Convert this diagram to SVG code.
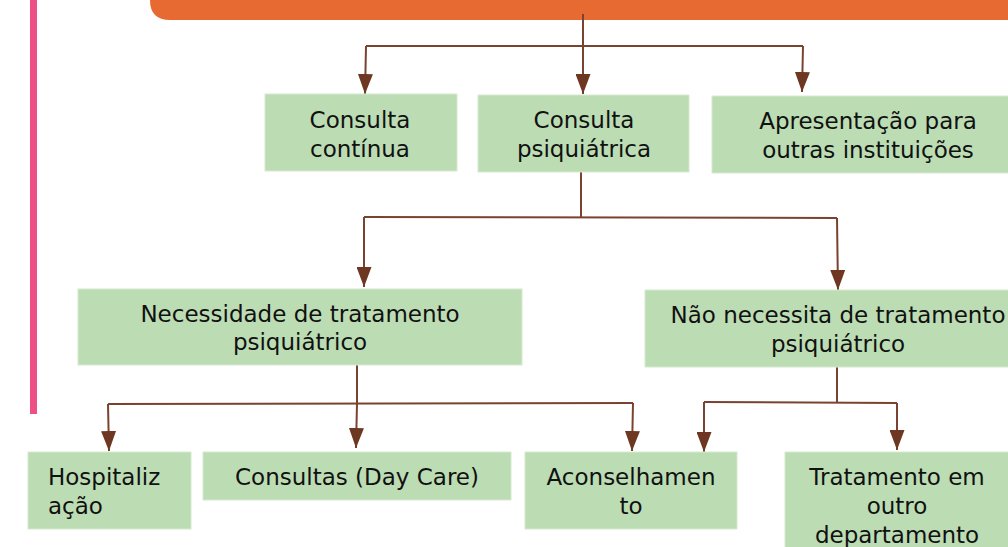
<svg xmlns="http://www.w3.org/2000/svg" width="1008" height="547" viewBox="0 0 1008 547">
<defs>
<marker id="ah" markerWidth="20" markerHeight="15" refX="20" refY="7.5" orient="auto" markerUnits="userSpaceOnUse" viewBox="0 0 20 15">
<path d="M0,0 L20,7.5 L0,15 Z" fill="#6e3721"/>
</marker>
<style>
.box{fill:#bcdcb4;stroke:#d6ead0;stroke-width:1}
.t{font-family:"DejaVu Sans",Verdana,sans-serif;font-size:23px;fill:#111;text-anchor:middle}
.s{text-anchor:start}
.l{stroke:#7a4330;stroke-width:2;fill:none}
.a{stroke:#7a4330;stroke-width:2;fill:none;marker-end:url(#ah)}
</style>
</defs>
<rect x="0" y="0" width="1008" height="547" fill="#ffffff"/>
<rect x="30" y="0" width="7" height="414" fill="#ef4f87"/>
<g id="top">
<path d="M150,0 L1008,0 L1008,20 L170,20 Q150,20 150,0 Z" fill="#e86a33"/>
<text x="442" y="-4" font-family="DejaVu Sans,sans-serif" font-size="22" fill="#ffffff">g</text>
</g>
<g id="connectors">
<line class="l" x1="583" y1="14" x2="583" y2="46"/>
<line class="l" x1="366" y1="46" x2="803" y2="46"/>
<path class="a" d="M366,46 L365,94"/>
<path class="a" d="M583,46 L583,94"/>
<path class="a" d="M803,46 L802,92"/>
<line class="l" x1="581" y1="172" x2="581" y2="217" stroke-width="1"/>
<line class="l" x1="364" y1="217" x2="837" y2="218"/>
<path class="a" d="M364,217 L364,287"/>
<path class="a" d="M837,218 L838,290"/>
<line class="l" x1="357" y1="365" x2="357" y2="403"/>
<line class="l" x1="108" y1="404" x2="633" y2="403"/>
<path class="a" d="M108,404 L109,451"/>
<path class="a" d="M357,403 L356,448"/>
<path class="a" d="M633,403 L632,451"/>
<line class="l" x1="837" y1="367" x2="837" y2="402" stroke-width="1"/>
<line class="l" x1="704" y1="402" x2="897" y2="403"/>
<path class="a" d="M704,402 L704,452"/>
<path class="a" d="M897,403 L897,450"/>
</g>
<g id="n1"><rect class="box" x="265" y="94" width="192" height="77"/>
<text class="t" x="360" y="128">Consulta</text><text class="t" x="360" y="157">contínua</text></g>
<g id="n2"><rect class="box" x="478" y="95" width="211" height="77"/>
<text class="t" x="584" y="128">Consulta</text><text class="t" x="584" y="157">psiquiátrica</text></g>
<g id="n3"><rect class="box" x="712" y="96" width="300" height="77"/>
<text class="t" x="868" y="129">Apresentação para</text><text class="t" x="868" y="158">outras instituições</text></g>
<g id="n4"><rect class="box" x="78" y="289" width="444" height="76"/>
<text class="t" x="300" y="322">Necessidade de tratamento</text><text class="t" x="300" y="350">psiquiátrico</text></g>
<g id="n5"><rect class="box" x="645" y="290" width="367" height="77"/>
<text class="t" x="838" y="323">Não necessita de tratamento</text><text class="t" x="838" y="352">psiquiátrico</text></g>
<g id="n6"><rect class="box" x="28" y="452" width="163" height="77"/>
<text class="t s" x="48" y="485">Hospitaliz</text><text class="t s" x="48" y="514">ação</text></g>
<g id="n7"><rect class="box" x="203" y="452" width="308" height="48"/>
<text class="t" x="357" y="485">Consultas (Day Care)</text></g>
<g id="n8"><rect class="box" x="525" y="452" width="212" height="77"/>
<text class="t" x="631" y="485">Aconselhamen</text><text class="t" x="631" y="514">to</text></g>
<g id="n9"><rect class="box" x="785" y="452" width="227" height="100"/>
<text class="t" x="897" y="485">Tratamento em</text><text class="t" x="897" y="514">outro</text><text class="t" x="897" y="543">departamento</text></g>
</svg>
